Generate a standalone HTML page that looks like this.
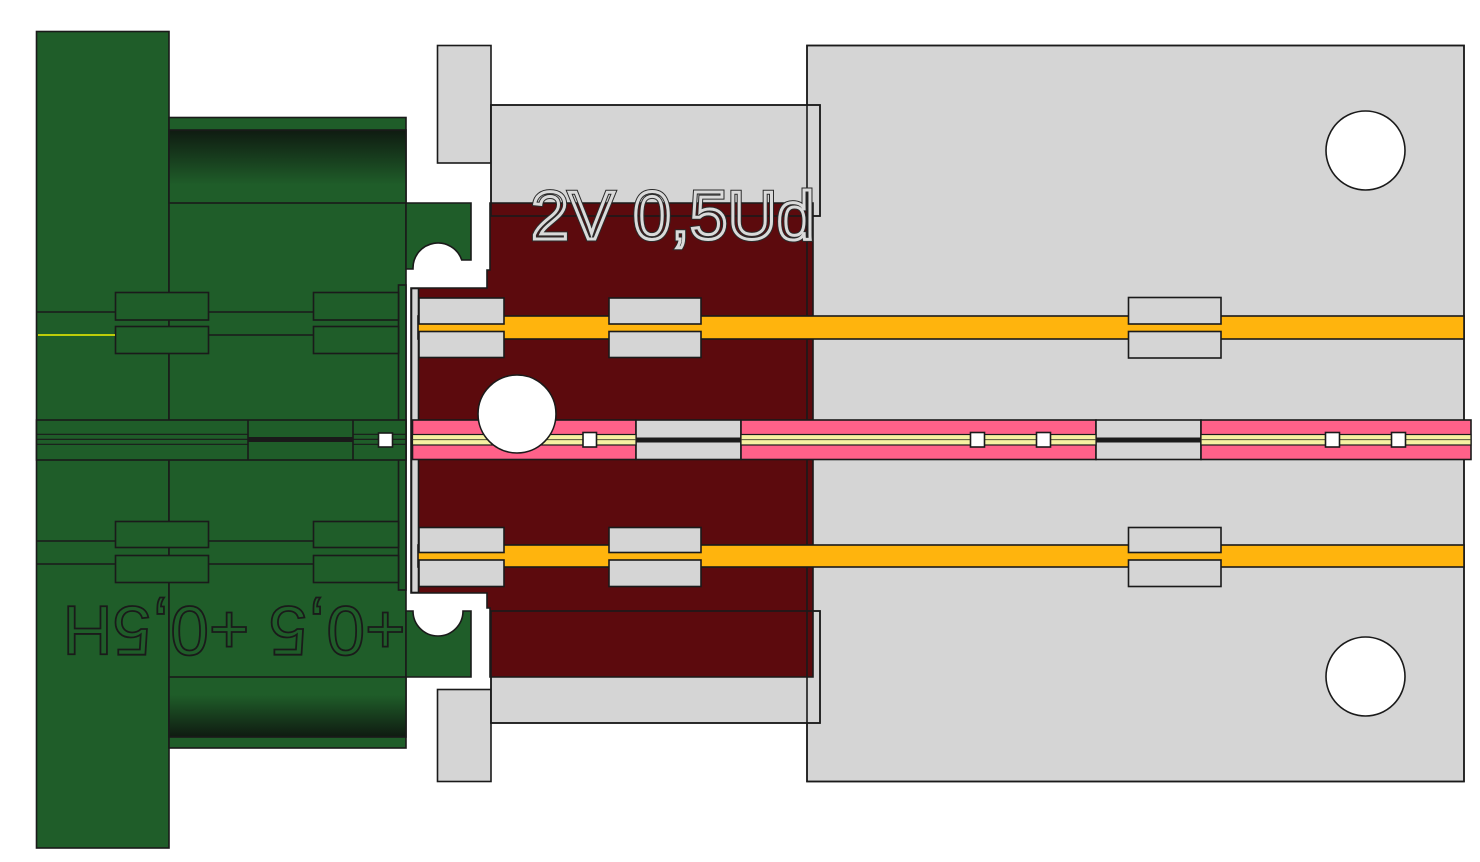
<!DOCTYPE html>
<html>
<head>
<meta charset="utf-8">
<style>
  html,body{margin:0;padding:0;background:#ffffff;}
  body{width:1480px;height:862px;overflow:hidden;}
  svg{display:block;}
  text{font-family:"Liberation Sans", Arial, sans-serif;}
</style>
</head>
<body>
<svg width="1480" height="862" viewBox="0 0 1480 862" xmlns="http://www.w3.org/2000/svg">
  <defs>
    <linearGradient id="gt" x1="0" y1="0" x2="0" y2="1">
      <stop offset="0" stop-color="#0f1b11"/>
      <stop offset="0.75" stop-color="#1f5d29"/>
      <stop offset="1" stop-color="#1f5d29"/>
    </linearGradient>
    <linearGradient id="gb" x1="0" y1="0" x2="0" y2="1">
      <stop offset="0" stop-color="#1f5d29"/>
      <stop offset="0.3" stop-color="#1f5d29"/>
      <stop offset="1" stop-color="#0f1b11"/>
    </linearGradient>
  </defs>

  <g stroke="#1a1a1a" stroke-width="1.6">
    <!-- right gray panel -->
    <rect x="807" y="45.5" width="657" height="736" fill="#d5d5d5"/>
    <circle cx="1365.5" cy="150.5" r="39.5" fill="#ffffff"/>
    <circle cx="1365.5" cy="676.5" r="39.5" fill="#ffffff"/>

    <!-- gray blocks -->
    <rect x="437.5" y="45.5" width="53.5" height="117.5" fill="#d5d5d5"/>
    <rect x="437.5" y="689.5" width="53.5" height="92" fill="#d5d5d5"/>
    <rect x="491" y="105" width="329" height="111" fill="#d5d5d5"/>
    <rect x="491" y="611" width="329" height="112" fill="#d5d5d5"/>

    <!-- maroon -->
    <path d="M490,203 H813 V677 H490 V608 H487 V593 H411 V288 H487 V270 H490 Z" fill="#5c0a0d"/>

    <!-- outlines on top -->
    <rect x="807" y="45.5" width="657" height="736" fill="none"/>
    <rect x="491" y="105" width="329" height="111" fill="none"/>
    <rect x="491" y="611" width="329" height="112" fill="none"/>

    <!-- gray vertical strip -->
    <rect x="411.5" y="288.5" width="7" height="304" fill="#d5d5d5"/>

    <!-- orange bands -->
    <rect x="418" y="316" width="1046" height="23" fill="#ffb40d"/>
    <rect x="418" y="545" width="1046" height="22" fill="#ffb40d"/>

    <!-- pads top row -->
    <rect x="419" y="298" width="85" height="26" fill="#d5d5d5"/>
    <rect x="419" y="331.5" width="85" height="26" fill="#d5d5d5"/>
    <rect x="609" y="298" width="92" height="26" fill="#d5d5d5"/>
    <rect x="609" y="331.5" width="92" height="26" fill="#d5d5d5"/>
    <rect x="1128.5" y="297.5" width="92.5" height="26.5" fill="#d5d5d5"/>
    <rect x="1128.5" y="331.5" width="92.5" height="26.5" fill="#d5d5d5"/>
    <!-- pads bottom row -->
    <rect x="419" y="527.5" width="85" height="25" fill="#d5d5d5"/>
    <rect x="419" y="560" width="85" height="26.5" fill="#d5d5d5"/>
    <rect x="609" y="527.5" width="92" height="25" fill="#d5d5d5"/>
    <rect x="609" y="560" width="92" height="26.5" fill="#d5d5d5"/>
    <rect x="1128.5" y="527.5" width="92.5" height="25" fill="#d5d5d5"/>
    <rect x="1128.5" y="560" width="92.5" height="26.5" fill="#d5d5d5"/>

    <!-- pink band -->
    <rect x="412.5" y="420" width="223.5" height="39.5" fill="#ff6189"/>
    <rect x="636" y="420" width="105" height="39.5" fill="#d5d5d5"/>
    <rect x="741" y="420" width="355" height="39.5" fill="#ff6189"/>
    <rect x="1096" y="420" width="105" height="39.5" fill="#d5d5d5"/>
    <rect x="1201" y="420" width="270" height="39.5" fill="#ff6189"/>
  </g>

  <!-- stripes in pink -->
  <g stroke="#1a1a1a" stroke-width="1.2" fill="#f7f1a2">
    <rect x="412.5" y="434.5" width="223.5" height="10.5"/>
    <rect x="741" y="434.5" width="355" height="10.5"/>
    <rect x="1201" y="434.5" width="270" height="10.5"/>
  </g>
  <g stroke="#3a3a2a" stroke-width="0.9">
    <line x1="412.5" y1="439.7" x2="636" y2="439.7"/>
    <line x1="741" y1="439.7" x2="1096" y2="439.7"/>
    <line x1="1201" y1="439.7" x2="1471" y2="439.7"/>
  </g>
  <g stroke="#1a1a1a" stroke-width="5">
    <line x1="636" y1="440" x2="741" y2="440"/>
    <line x1="1096" y1="440" x2="1201" y2="440"/>
  </g>
  <g stroke="#1a1a1a" stroke-width="1.6" fill="#ffffff">
    <rect x="583" y="432.5" width="13.5" height="14.5"/>
    <rect x="970.5" y="432.5" width="14" height="14.5"/>
    <rect x="1036.5" y="432.5" width="14" height="14.5"/>
    <rect x="1325.5" y="432.5" width="14" height="14.5"/>
    <rect x="1391.5" y="432.5" width="14" height="14.5"/>
    <circle cx="517" cy="414" r="39"/>
  </g>

  <!-- GREEN -->
  <g stroke="#1a1a1a" stroke-width="1.6" fill="#1f5d29">
    <rect x="36.5" y="31.5" width="132.5" height="816.5"/>
    <rect x="169" y="117.5" width="237" height="630.5"/>
    <rect x="169" y="130" width="237" height="73" fill="url(#gt)"/>
    <rect x="169" y="677" width="237" height="60" fill="url(#gb)"/>
    <!-- tabs -->
    <path d="M406,203 H471 V260 H461.7 A25,25 0 0 0 413,268 V269 H406 Z"/>
    <path d="M406,611 H413 A25,25 0 0 0 463,611 H471 V677 H406 Z"/>
    <!-- strip -->
    <rect x="398.5" y="285" width="7.5" height="305"/>
    <!-- pads top -->
    <rect x="115.5" y="292.5" width="93" height="27.5"/>
    <rect x="115.5" y="326.5" width="93" height="27"/>
    <rect x="313.5" y="292.5" width="85" height="27.5"/>
    <rect x="313.5" y="326.5" width="85" height="27"/>
    <!-- pads bottom -->
    <rect x="115.5" y="521.5" width="93" height="26"/>
    <rect x="115.5" y="555.5" width="93" height="27"/>
    <rect x="313.5" y="521.5" width="85" height="26"/>
    <rect x="313.5" y="555.5" width="85" height="27"/>
    <!-- middle band -->
    <rect x="36.5" y="420" width="369.5" height="40"/>
  </g>
  <g stroke="#1a1a1a" stroke-width="1.6" fill="none">
    <line x1="36" y1="312" x2="115" y2="312"/>
    <line x1="208" y1="312" x2="313" y2="312"/>
    <line x1="208" y1="335" x2="313" y2="335"/>
    <line x1="36" y1="541" x2="115" y2="541"/>
    <line x1="208" y1="541" x2="313" y2="541"/>
    <line x1="36" y1="564" x2="115" y2="564"/>
    <line x1="208" y1="564" x2="313" y2="564"/>
    <line x1="248" y1="420" x2="248" y2="460"/>
    <line x1="353" y1="420" x2="353" y2="460"/>
  </g>
  <line x1="38" y1="335" x2="115" y2="335" stroke="#f2f200" stroke-width="1.6"/>
  <g stroke="#1a1a1a" stroke-width="1.2">
    <line x1="36" y1="434.3" x2="248" y2="434.3"/>
    <line x1="36" y1="439.3" x2="248" y2="439.3"/>
    <line x1="36" y1="444.3" x2="248" y2="444.3"/>
    <line x1="353" y1="434.3" x2="406" y2="434.3"/>
    <line x1="353" y1="439.3" x2="406" y2="439.3"/>
    <line x1="353" y1="444.3" x2="406" y2="444.3"/>
  </g>
  <line x1="248" y1="439.5" x2="353" y2="439.5" stroke="#1a1a1a" stroke-width="5"/>
  <rect x="378.5" y="433" width="14" height="14" fill="#ffffff" stroke="#1a1a1a" stroke-width="1.6"/>

  <!-- mirrored outline text -->
  <text transform="translate(405.5,606.5) rotate(180)" x="0" y="0" font-size="70" textLength="343" lengthAdjust="spacingAndGlyphs" fill="none" stroke="#1a1a1a" stroke-width="1.8">+0,5 +0,5H</text>

  <!-- label text -->
  <text x="531" y="239" font-size="68" fill="none" stroke="#2a2a2a" stroke-width="5">2V 0,5Ud</text>
  <text x="531" y="239" font-size="68" fill="none" stroke="#dadada" stroke-width="3">2V 0,5Ud</text>
</svg>
</body>
</html>
